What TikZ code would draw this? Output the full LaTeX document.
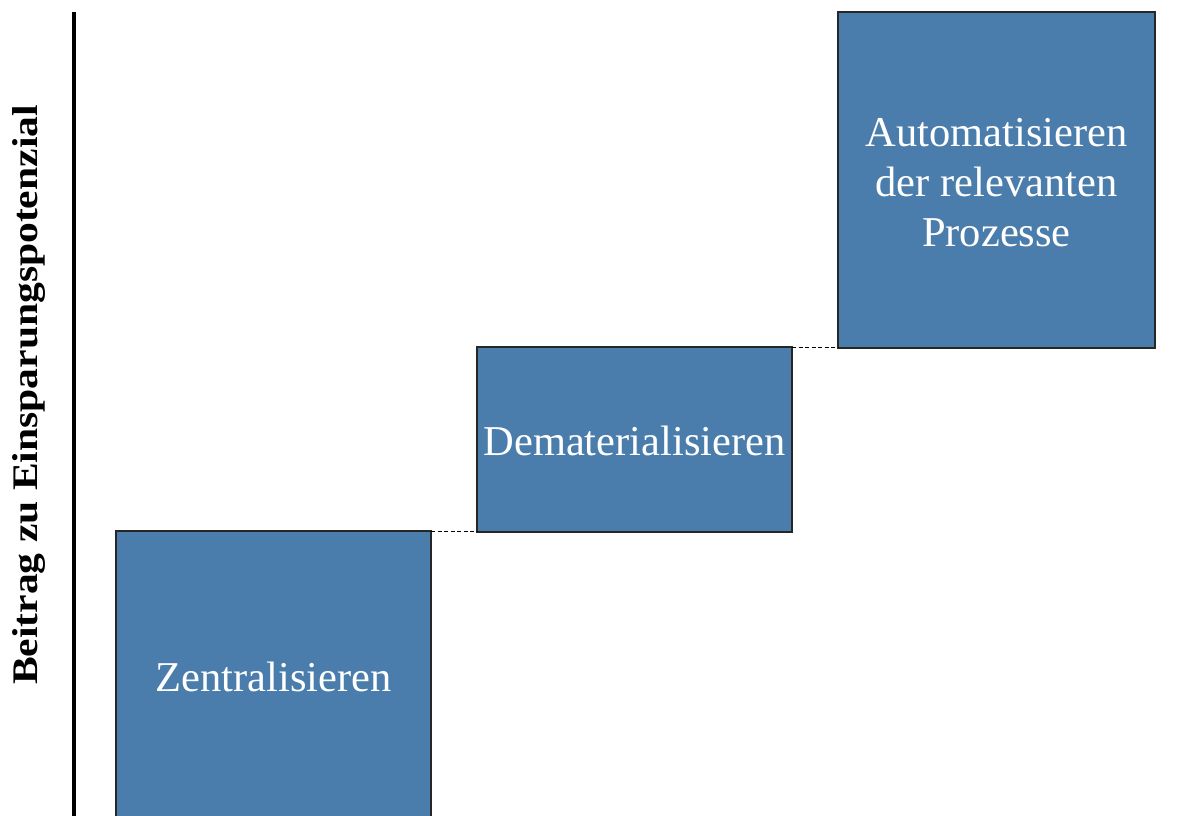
\documentclass[tikz,border=0pt]{standalone}
\usepackage{fontspec}
\setmainfont{Liberation Serif}
\definecolor{boxblue}{HTML}{4A7DAC}
\tikzset{
  stepbox/.style={draw=black!85, line width=1.2pt, fill=boxblue, text=white, align=center, font=\fontsize{42.5}{50}\selectfont, inner sep=0pt},
  guide/.style={draw=black, dashed, line width=0.8pt, dash pattern=on 4pt off 2.5pt}
}
\begin{document}
\begin{tikzpicture}[x=1pt,y=-1pt]
\useasboundingbox (0,0) rectangle (1192,816);
\begin{scope}
\clip (0,0) rectangle (1192,816);
\draw[stepbox] (116,531) rectangle (431,826);
\node[stepbox, draw=none, fill=none, anchor=center] (z) at (273.5,677) {Zentralisieren};
\draw[stepbox] (477,347) rectangle (792,532);
\node[stepbox, draw=none, fill=none] (d) at (634.5,441) {Dematerialisieren};
\draw[stepbox] (838,12) rectangle (1155,348);
\node[stepbox, draw=none, fill=none] (a) at (996.5,183) {Automatisieren\\der relevanten\\Prozesse};
\end{scope}
\coordinate (b1r) at (431,531);
\coordinate (b2l) at (477,531);
\coordinate (b2r) at (792,347);
\coordinate (b3l) at (838,347);
\draw[guide] (b1r) -- (b2l);
\draw[guide] (b2r) -- (b3l);
\coordinate (axtop) at (74,12);
\coordinate (axbot) at (74,816);
\draw[line width=3.5pt] (axtop) -- (axbot);
\node[rotate=90, font=\bfseries\fontsize{36}{40}\selectfont, inner sep=0pt] (ylab) at (29,395) {\scalebox{1.155}[1]{Beitrag zu Einsparungspotenzial}};
\end{tikzpicture}
\end{document}
